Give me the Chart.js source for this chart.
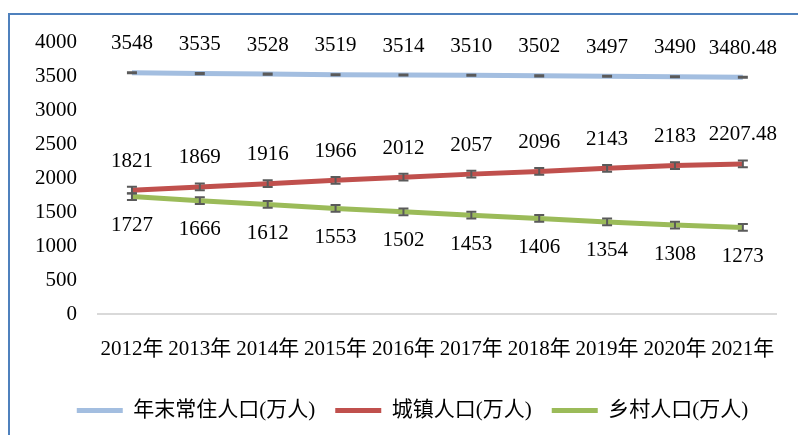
<!DOCTYPE html>
<html>
<head>
<meta charset="utf-8">
<script src="https://cdn.jsdelivr.net/npm/chart.js@4"></script>
<style>
  html, body { margin: 0; padding: 0; background: #fff; overflow: hidden; }
  #wrap { position: relative; width: 798px; height: 435px; }
  #frame { position: absolute; left: 8px; top: 13px; width: 900px; height: 600px;
           border-top: 2px solid #4F81BD; border-left: 2px solid #4F81BD; }
  canvas { position: absolute; left: 0; top: 0; }
</style>
</head>
<body>
<div id="wrap">
  <div id="frame"></div>
  <canvas id="myChart" width="798" height="435"></canvas>
</div>
<script>
var years = ['2012年', '2013年', '2014年', '2015年', '2016年', '2017年', '2018年', '2019年', '2020年', '2021年'];
var totalPop = [3548, 3535, 3528, 3519, 3514, 3510, 3502, 3497, 3490, 3480.48];
var urbanPop = [1821, 1869, 1916, 1966, 2012, 2057, 2096, 2143, 2183, 2207.48];
var ruralPop = [1727, 1666, 1612, 1553, 1502, 1453, 1406, 1354, 1308, 1273];
// error bar half-heights
var totalErr = [8, 8, 8, 8, 8, 8, 8, 8, 8, 8];
var urbanErr = [50, 50, 50, 50, 50, 50, 50, 50, 50, 50];
var ruralErr = [50, 50, 50, 50, 50, 50, 50, 50, 50, 50];
var seriesNames = ['年末常住人口(万人)', '城镇人口(万人)', '乡村人口(万人)'];

var serif = '"Liberation Serif", "Noto Sans CJK SC", serif';

// error bars + value labels on top of the lines
var labelPlugin = {
    id: 'labelPlugin',
    afterLayout: function(chart) {
        // legend sits a bit right of centre in the original
        chart.legend.left += 20;
        chart.legend.right += 20;
    },
    afterDatasetsDraw: function(chart) {
        var ctx = chart.ctx;
        var yScale = chart.scales.y;
        chart.data.datasets.forEach(function(ds, i) {
            var meta = chart.getDatasetMeta(i);
            ctx.save();
            ctx.strokeStyle = '#5a5a5a';
            ctx.lineWidth = 2;
            meta.data.forEach(function(pt, j) {
                var v = ds.data[j], e = ds.errors[j];
                var yTop = yScale.getPixelForValue(v + e);
                var yBot = yScale.getPixelForValue(v - e);
                ctx.beginPath();
                ctx.moveTo(pt.x - 5, yTop); ctx.lineTo(pt.x + 5, yTop);
                ctx.moveTo(pt.x - 5, yBot); ctx.lineTo(pt.x + 5, yBot);
                ctx.moveTo(pt.x, yTop); ctx.lineTo(pt.x, yBot);
                ctx.stroke();
            });
            ctx.fillStyle = '#000';
            ctx.font = '21px ' + serif;
            ctx.textAlign = 'center';
            ctx.textBaseline = 'middle';
            meta.data.forEach(function(pt, j) {
                var off = ds.labelBelow ? 29 : -29;
                ctx.fillText(String(ds.data[j]), pt.x, pt.y + off);
            });
            ctx.restore();
        });
    }
};

var chart = new Chart(document.getElementById('myChart').getContext('2d'), {
    type: 'line',
    data: {
        labels: years,
        datasets: [
            { label: seriesNames[0], data: totalPop, errors: totalErr, borderColor: '#A3BEE0', backgroundColor: '#A3BEE0', borderWidth: 5 },
            { label: seriesNames[1], data: urbanPop, errors: urbanErr, borderColor: '#C0504D', backgroundColor: '#C0504D', borderWidth: 5 },
            { label: seriesNames[2], data: ruralPop, errors: ruralErr, borderColor: '#9BBB59', backgroundColor: '#9BBB59', borderWidth: 5, labelBelow: true }
        ]
    },
    options: {
        responsive: false,
        animation: false,
        layout: { padding: { left: 0, top: 42, right: 13, bottom: 4 } },
        elements: { point: { radius: 0 }, line: { tension: 0 } },
        plugins: {
            tooltip: { enabled: false },
            legend: {
                position: 'bottom',
                labels: {
                    boxWidth: 46,
                    boxHeight: 5,
                    padding: 20,
                    color: '#000',
                    font: { family: serif, size: 21 },
                    generateLabels: function(c) {
                        return Chart.defaults.plugins.legend.labels.generateLabels(c).map(function(l) {
                            l.lineWidth = 0;
                            return l;
                        });
                    }
                }
            }
        },
        scales: {
            x: {
                offset: true,
                grid: { display: false, drawTicks: false },
                border: { display: true, color: '#d9d9d9', width: 2 },
                ticks: { color: '#000', padding: 23, maxRotation: 0, font: { family: serif, size: 21 } },
                afterFit: function(scale) { scale.height = 66; }
            },
            y: {
                min: 0,
                max: 4000,
                grid: { display: false, drawTicks: false },
                border: { display: false },
                ticks: {
                    stepSize: 500, color: '#000', padding: 21, font: { family: serif, size: 21 },
                    callback: function(v) { return String(v); }
                },
                afterFit: function(scale) { scale.width = 98; }
            }
        }
    },
    plugins: [labelPlugin]
});
</script>
</body>
</html>
